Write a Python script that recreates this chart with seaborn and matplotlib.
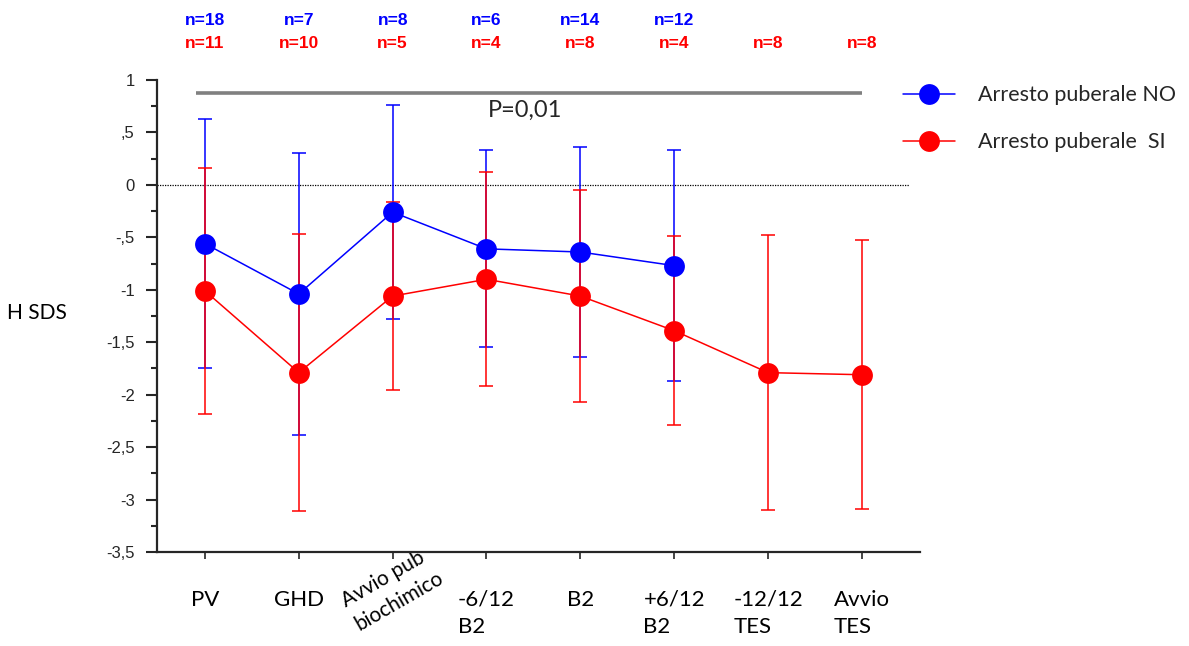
import numpy as np
import pandas as pd
import matplotlib
matplotlib.use("Agg")
import matplotlib.pyplot as plt
from matplotlib.ticker import MultipleLocator, FuncFormatter
from matplotlib.lines import Line2D
import seaborn as sns

# Time points along the pubertal follow-up
categories = ["PV", "GHD", "Avvio pub\nbiochimico", "-6/12\nB2", "B2",
              "+6/12\nB2", "-12/12\nTES", "Avvio\nTES"]

# Height SDS, mean and SD, pubertal arrest NO
no_mean = [-0.56, -1.04, -0.26, -0.61, -0.64, -0.77]
no_sd = [1.19, 1.34, 1.02, 0.94, 1.00, 1.10]
no_n = [18, 7, 8, 6, 14, 12]

# Height SDS, mean and SD, pubertal arrest SI
si_mean = [-1.01, -1.79, -1.06, -0.90, -1.06, -1.39, -1.79, -1.81]
si_sd = [1.17, 1.32, 0.90, 1.02, 1.01, 0.90, 1.31, 1.28]
si_n = [11, 10, 5, 4, 8, 4, 8, 8]

p_text = "P=0,01"
p_bar_level = 0.88
label_no = "Arresto puberale NO"
label_si = "Arresto puberale  SI"

BLUE = "#0000ff"
RED = "#ff0000"

sns.set_style("ticks")
plt.rcParams["font.family"] = ["Liberation Sans", "DejaVu Sans"]
sans_label = ["Lato", "DejaVu Sans"]
narrow = ["Liberation Sans Narrow", "Liberation Sans", "DejaVu Sans"]

df = pd.concat([
    pd.DataFrame({"pos": np.arange(len(no_mean)), "H": no_mean, "sd": no_sd,
                  "gruppo": "NO"}),
    pd.DataFrame({"pos": np.arange(len(si_mean)), "H": si_mean, "sd": si_sd,
                  "gruppo": "SI"}),
], ignore_index=True)

fig = plt.figure(figsize=(11.89, 6.46), dpi=100)
ax = fig.add_axes([0.1320, 0.1455, 0.6417, 0.7307])

# Error bars (mean ± SD) under the markers
for grp, col in (("NO", BLUE), ("SI", RED)):
    sub = df[df["gruppo"] == grp]
    ax.errorbar(sub["pos"], sub["H"], yerr=sub["sd"], fmt="none", ecolor=col,
                elinewidth=1.1, capsize=5, capthick=1.1, zorder=2)

sns.lineplot(data=df, x="pos", y="H", hue="gruppo",
             palette={"NO": BLUE, "SI": RED}, marker="o", markersize=15,
             markeredgewidth=0, linewidth=1.1, legend=False, ax=ax, zorder=3)

# Reference line at zero
ax.axhline(0, xmin=0, xmax=0.9856, color="black", ls=(0, (1, 1)), lw=0.9,
           zorder=1)

# Significance bar
ax.hlines(p_bar_level, -0.1, 7.0, color="#808080", lw=2.6, zorder=1)
ax.text(3.41, 0.71, p_text, ha="center", va="center", fontsize=17,
        color="#262626", family=sans_label)

ax.set_xlim(-0.511, 7.618)
ax.set_ylim(-3.5, 1.0)

ax.yaxis.set_major_locator(MultipleLocator(0.5))
ax.yaxis.set_minor_locator(MultipleLocator(0.25))


def sds_fmt(v, _pos):
    if abs(v) < 1e-9:
        return "0"
    s = f"{v:g}".replace(".", ",")
    s = s.replace("0,", ",")
    return s


ax.yaxis.set_major_formatter(FuncFormatter(sds_fmt))
ax.tick_params(axis="y", which="major", length=8, width=1.5, labelsize=12,
               pad=8, color="#262626", labelcolor="#262626")
ax.tick_params(axis="y", which="minor", length=4.5, width=1.5,
               color="#262626")
ax.set_xticks(range(len(categories)))
ax.set_xticklabels(categories)
ax.tick_params(axis="x", length=5, width=1.2, pad=22, color="#262626")
for i, lab in enumerate(ax.get_xticklabels()):
    lab.set_family(sans_label)
    lab.set_fontsize(16)
    lab.set_multialignment("left")
    lab.set_linespacing(1.45)
    lab.set_color("black")
    if "biochimico" in categories[i]:
        lab.set_fontsize(15)
        lab.set_linespacing(1.4)
        lab.set_rotation(30)
        lab.set_rotation_mode("anchor")
        lab.set_ha("center")
        lab.set_va("center")

ax.set_xlabel("")
ax.set_ylabel("H SDS", rotation=0, fontsize=15, family=sans_label,
              color="black", ha="center", va="center")
ax.yaxis.set_label_coords(-0.157, 0.506)

for s in ("top", "right"):
    ax.spines[s].set_visible(False)
for s in ("left", "bottom"):
    ax.spines[s].set_linewidth(1.6)
    ax.spines[s].set_color("#262626")

# Sample sizes above each time point
tr = ax.get_xaxis_transform()
for i, n in enumerate(no_n):
    ax.text(i, 1.127, f"n={n}", transform=tr, ha="center", va="center",
            color=BLUE, fontsize=12.5, fontweight="bold", family=narrow)
for i, n in enumerate(si_n):
    ax.text(i, 1.078, f"n={n}", transform=tr, ha="center", va="center",
            color=RED, fontsize=12.5, fontweight="bold", family=narrow)

handles = [Line2D([], [], color=BLUE, marker="o", markersize=15,
                  markeredgewidth=0, lw=1.1),
           Line2D([], [], color=RED, marker="o", markersize=15,
                  markeredgewidth=0, lw=1.1)]
fig.legend(handles, [label_no, label_si], loc="upper left",
           bbox_to_anchor=(0.7595, 0.868), frameon=False,
           prop={"family": sans_label, "size": 15.5}, handlelength=2.4,
           handletextpad=1.1, labelspacing=1.25, borderpad=0,
           borderaxespad=0)

fig.savefig("out.png", dpi=100)
